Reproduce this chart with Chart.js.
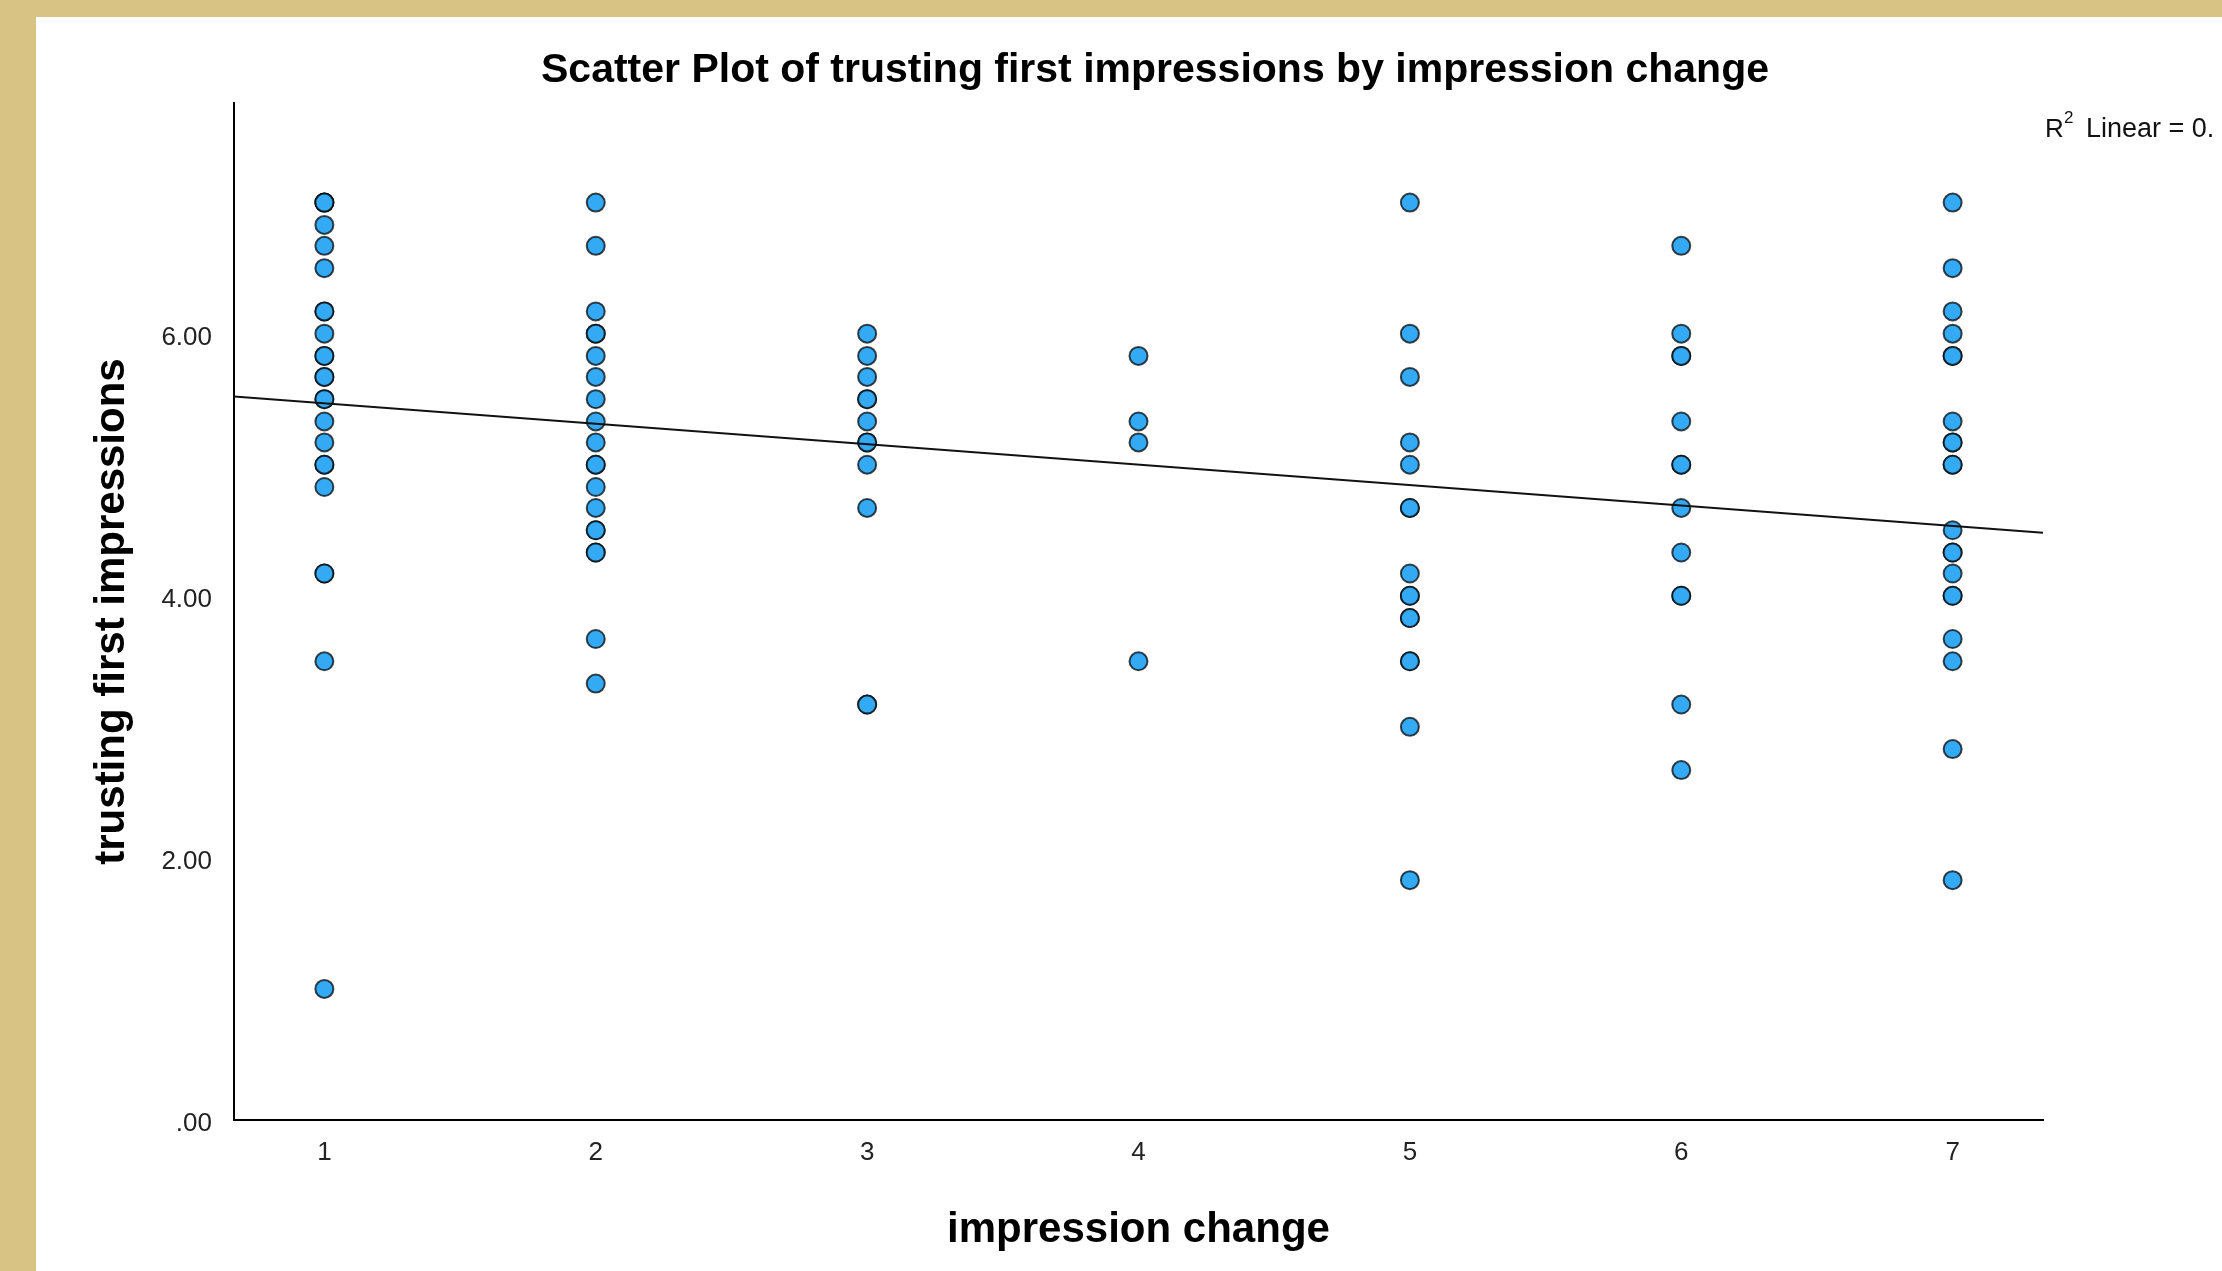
<!DOCTYPE html>
<html>
<head>
<meta charset="utf-8">
<title>Scatter Plot of trusting first impressions by impression change</title>
<script src="https://cdn.jsdelivr.net/npm/chart.js@4.4.1/dist/chart.umd.min.js"></script>
<style>
  html, body { margin: 0; padding: 0; }
  body { width: 2222px; height: 1271px; background: #D8C385; overflow: hidden; }
  #wrap { position: absolute; left: 36px; top: 17px; width: 2186px; height: 1254px; background: #fff; }
</style>
</head>
<body>
<div id="wrap"><canvas id="myChart"></canvas></div>
<script>
var xLevels = [1, 2, 3, 4, 5, 6, 7]
var trustAt1 = [7, 7, 7, 6.83, 6.67, 6.5, 6.17, 6.17, 6, 5.83, 5.83, 5.67, 5.67, 5.5, 5.5, 5.33, 5.17, 5, 5, 4.83, 4.17, 4.17, 3.5, 1]
var trustAt2 = [7, 6.67, 6.17, 6, 6, 5.83, 5.67, 5.5, 5.33, 5.17, 5, 5, 4.83, 4.67, 4.5, 4.5, 4.33, 4.33, 3.67, 3.33]
var trustAt3 = [6, 5.83, 5.67, 5.5, 5.5, 5.33, 5.17, 5.17, 5, 4.67, 3.17, 3.17]
var trustAt4 = [5.83, 5.33, 5.17, 3.5]
var trustAt5 = [7, 6, 5.67, 5.17, 5, 4.67, 4.67, 4.17, 4, 4, 3.83, 3.83, 3.5, 3.5, 3, 1.83]
var trustAt6 = [6.67, 6, 5.83, 5.83, 5.33, 5, 5, 4.67, 4.33, 4, 4, 3.17, 2.67]
var trustAt7 = [7, 6.5, 6.17, 6, 5.83, 5.83, 5.33, 5.17, 5.17, 5, 5, 4.5, 4.33, 4.33, 4.17, 4, 4, 3.67, 3.5, 2.83, 1.83]

// fit line (R2 linear) ends, read at the plot edges
var fitX = [0.667, 7.333]
var fitY = [5.52, 4.48]

var xTicks = [1, 2, 3, 4, 5, 6, 7]
var yTicks = [0, 2, 4, 6]
var yTickLabels = ['.00', '2.00', '4.00', '6.00']

var chartTitle = 'Scatter Plot of trusting first impressions by impression change'
var xTitle = 'impression change'
var yTitle = 'trusting first impressions'

var fontFam = '"Liberation Sans", Arial, sans-serif'

var trustByChange = [trustAt1, trustAt2, trustAt3, trustAt4, trustAt5, trustAt6, trustAt7]
var points = []
xLevels.forEach(function(x, i){
    trustByChange[i].forEach(function(y){
        points.push({x: x, y: y})
    })
})
var fitLine = fitX.map(function(x, i){ return {x: x, y: fitY[i]} })

// title + R2 label, SPSS puts them off centre so drawn by hand
var spssText = {
    id: 'spssText',
    afterDraw: function(chart){
        var ctx = chart.ctx
        ctx.save()
        ctx.fillStyle = '#000'
        ctx.font = 'bold 41px ' + fontFam
        ctx.textAlign = 'center'
        ctx.textBaseline = 'middle'
        ctx.fillText(chartTitle, 1119, 54)

        ctx.fillStyle = '#111'
        ctx.textAlign = 'left'
        ctx.textBaseline = 'alphabetic'
        ctx.font = '26px ' + fontFam
        ctx.fillText('R', 2009, 120)
        ctx.font = '17px ' + fontFam
        ctx.fillText('2', 2028, 106)
        ctx.font = '27px ' + fontFam
        ctx.fillText('Linear = 0.', 2050, 120)
        ctx.restore()
    }
}

function setChart(){
    var ctx = document.getElementById('myChart');
    var myChart = new Chart(ctx, {
    type: 'scatter',
    data: {
        datasets: [{
            type: 'line',
            data: fitLine,
            borderColor: '#111',
            borderWidth: 2,
            pointRadius: 0,
            fill: false,
            order: 0,
        }, {
            data: points,
            backgroundColor: 'rgb(52,170,245)',
            borderColor: 'rgba(0,0,0,0.72)',
            borderWidth: 2,
            pointRadius: 9,
            order: 1,
        }],
    },
    options: {
        responsive: true,
        maintainAspectRatio: false,
        animation: false,
        layout: { padding: { left: 39, right: 179, top: 86, bottom: 0 } },
        plugins: {
            legend: { display: false },
            tooltip: { enabled: false },
        },
        scales: {
            x: {
                type: 'linear',
                min: fitX[0],
                max: fitX[1],
                afterBuildTicks: function(s){ s.ticks = xTicks.map(function(v){ return {value: v} }) },
                afterFit: function(s){ s.height = 151 },
                grid: { display: false },
                border: { display: true, color: '#000', width: 2 },
                ticks: {
                    autoSkip: false,
                    maxRotation: 0,
                    padding: 9,
                    color: '#222',
                    font: { family: fontFam, size: 26 },
                    callback: function(v){ return String(v) },
                },
                title: {
                    display: true,
                    text: xTitle,
                    color: '#000',
                    font: { family: fontFam, size: 42, weight: 'bold' },
                    padding: { top: 0, bottom: 15 },
                },
            },
            y: {
                type: 'linear',
                min: 0,
                max: 7.76,
                afterBuildTicks: function(s){ s.ticks = yTicks.map(function(v){ return {value: v} }) },
                afterFit: function(s){ s.width = 159 },
                grid: { display: false },
                border: { display: true, color: '#000', width: 2 },
                ticks: {
                    padding: 14,
                    labelOffset: 4,
                    color: '#222',
                    font: { family: fontFam, size: 26 },
                    callback: function(v){ return yTickLabels[yTicks.indexOf(v)] },
                },
                title: {
                    display: true,
                    text: yTitle,
                    color: '#000',
                    font: { family: fontFam, size: 42, weight: 'bold' },
                    padding: { top: 12, bottom: 0 },
                },
            },
        },
    },
    plugins: [spssText],
    });
};

setChart()
</script>
</body>
</html>
